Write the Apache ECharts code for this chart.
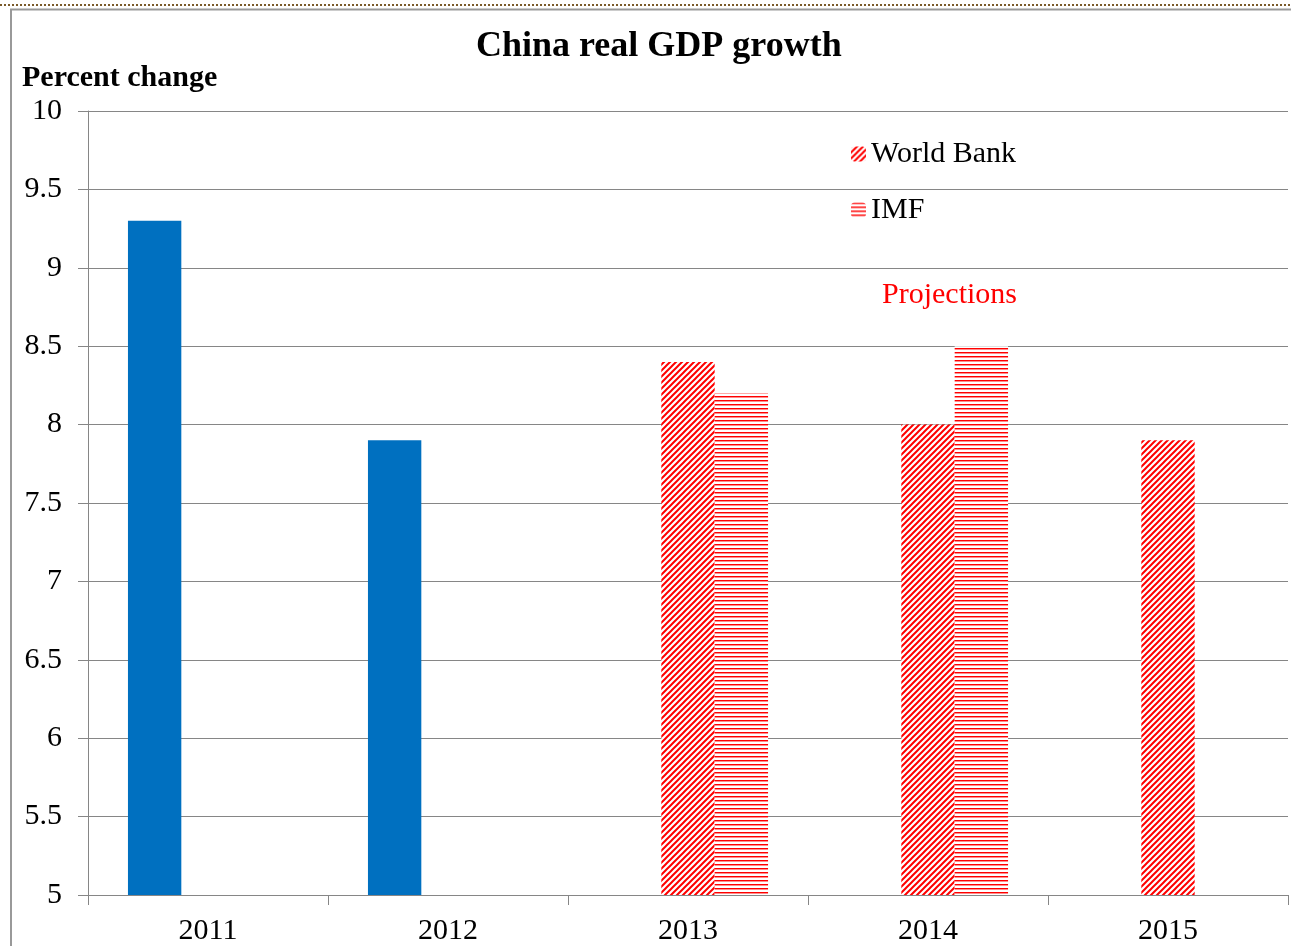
<!DOCTYPE html>
<html lang="en">
<head>
    <meta charset="UTF-8">
    <title>China real GDP growth</title>
    <script type="text/javascript" src="https://cdn.jsdelivr.net/npm/echarts@6/dist/echarts.min.js"></script>
    <style>
        html, body { margin: 0; padding: 0; background: #fff; }
        #main { width: 1291px; height: 946px; }
    </style>
</head>
<body>
<div id="main"></div>
<script type="text/javascript">
    // data
    var years = ['2011', '2012', '2013', '2014', '2015'];
    var actual = [9.3, 7.9, null, null, null];
    var worldBank = [null, null, 8.4, 8.0, 7.9];
    var imf = [null, null, 8.2, 8.5, null];
    var yMin = 5, yMax = 10, yStep = 0.5;

    var serif = '"Liberation Serif", "DejaVu Serif", serif';

    // hatch fills
    function diagPattern() {
        var c = document.createElement('canvas');
        c.width = 6; c.height = 6;
        var ctx = c.getContext('2d');
        ctx.fillStyle = '#fff';
        ctx.fillRect(0, 0, 6, 6);
        ctx.strokeStyle = '#ff0000';
        ctx.lineWidth = 2;
        ctx.beginPath();
        ctx.moveTo(-1, 7); ctx.lineTo(7, -1);
        ctx.moveTo(-4, 4); ctx.lineTo(4, -4);
        ctx.moveTo(2, 10); ctx.lineTo(10, 2);
        ctx.stroke();
        return c;
    }
    function horizPattern() {
        var c = document.createElement('canvas');
        c.width = 4; c.height = 4;
        var ctx = c.getContext('2d');
        ctx.fillStyle = '#fff';
        ctx.fillRect(0, 0, 4, 4);
        ctx.fillStyle = '#ff0000';
        ctx.fillRect(0, 0, 4, 1);
        ctx.fillStyle = 'rgba(255,0,0,0.45)';
        ctx.fillRect(0, 1, 4, 1);
        return c;
    }

    var myChart = echarts.init(document.getElementById('main'));
    var option = {
        backgroundColor: '#fff',
        animation: false,
        title: [
            {
                text: 'China real GDP growth',
                left: 471, top: 24,
                textStyle: {fontFamily: serif, fontSize: 36, fontWeight: 'bold', color: '#000'}
            },
            {
                text: 'Percent change',
                left: 17, top: 58,
                textStyle: {fontFamily: serif, fontSize: 30, fontWeight: 'bold', color: '#000'}
            }
        ],
        legend: {
            data: ['World Bank', 'IMF'],
            orient: 'vertical',
            left: 846, top: 134,
            itemWidth: 15, itemHeight: 15, itemGap: 26,
            textStyle: {fontFamily: serif, fontSize: 30, color: '#000'}
        },
        graphic: [
            {type: 'line', shape: {x1: 0, y1: 5, x2: 1291, y2: 5},
             style: {stroke: '#7a5a2a', lineWidth: 2, lineDash: [2, 2]}},
            {type: 'line', shape: {x1: 10, y1: 9.5, x2: 1291, y2: 9.5},
             style: {stroke: '#999', lineWidth: 2}},
            {type: 'line', shape: {x1: 11, y1: 9, x2: 11, y2: 946},
             style: {stroke: '#999', lineWidth: 2}},
            {type: 'text', left: 882, top: 280,
             style: {text: 'Projections', fill: '#ff0000', font: '30px ' + serif}}
        ],
        grid: {left: 88, right: 3, top: 111, bottom: 51, containLabel: false},
        xAxis: {
            type: 'category',
            data: years,
            axisLine: {lineStyle: {color: '#868686', width: 1}},
            axisTick: {show: true, length: 10, lineStyle: {color: '#868686'}},
            axisLabel: {fontFamily: serif, fontSize: 30, color: '#000', margin: 21}
        },
        yAxis: {
            type: 'value',
            min: yMin, max: yMax, interval: yStep,
            axisLine: {show: true, lineStyle: {color: '#868686', width: 1}},
            axisTick: {show: true, length: 10, lineStyle: {color: '#868686'}},
            axisLabel: {fontFamily: serif, fontSize: 30, color: '#000', margin: 26},
            splitLine: {lineStyle: {color: '#868686', width: 1}}
        },
        series: [
            {
                name: 'Actual', type: 'bar', data: actual,
                barGap: 0, barCategoryGap: '33.3%',
                itemStyle: {color: '#0070c0'}
            },
            {
                name: 'World Bank', type: 'bar', data: worldBank,
                barGap: 0, barCategoryGap: '33.3%',
                itemStyle: {color: {image: diagPattern(), repeat: 'repeat'}}
            },
            {
                name: 'IMF', type: 'bar', data: imf,
                barGap: 0, barCategoryGap: '33.3%',
                itemStyle: {color: {image: horizPattern(), repeat: 'repeat'}}
            }
        ]
    };
    myChart.setOption(option);
</script>
</body>
</html>
